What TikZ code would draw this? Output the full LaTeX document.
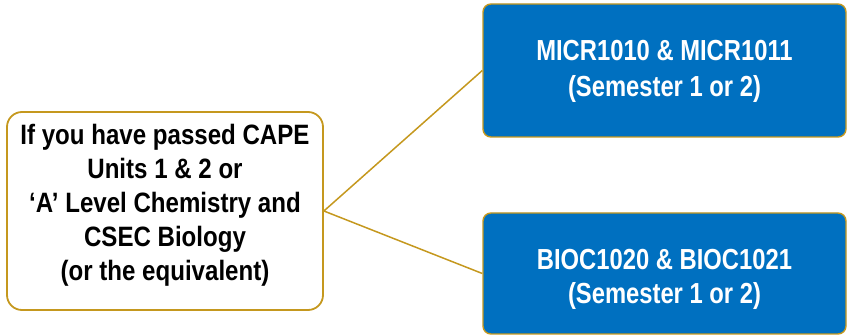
\documentclass[tikz,border=0pt]{standalone}
\usepackage{fontspec}
\setmainfont{Liberation Sans}[FakeStretch=0.86]
\newfontfamily\coursefont{Liberation Sans}[FakeStretch=0.82]
\definecolor{goldline}{RGB}{197,152,30}
\definecolor{coursebl}{RGB}{0,112,192}
\begin{document}
\begin{tikzpicture}[x=1pt,y=1pt,
  condbox/.style={draw=goldline, line width=1.8pt, rounded corners=15pt, fill=white,
    minimum width=316pt, minimum height=198pt, inner sep=0pt},
  coursebox/.style={draw=goldline, line width=1.4pt, rounded corners=8pt, fill=coursebl,
    minimum width=363pt, inner sep=0pt},
  boxtext/.style={font=\bfseries\fontsize{28}{34}\selectfont, align=center, inner sep=0pt},
  coursetext/.style={text=white, align=center, inner sep=0pt},
  link/.style={draw=goldline, line width=1.5pt}]
\useasboundingbox (0,0) rectangle (847,335);

% entry requirement box
\node[condbox] (cond) at (165,124) {};
\node[boxtext, text=black] (condtxt) at (165,129.5)
  {If you have passed CAPE\\Units 1 \& 2 or\\‘A’ Level Chemistry and\\CSEC Biology\\(or the equivalent)};

% course boxes
\node[coursebox, minimum height=133pt] (micr) at (664.5,264.5) {};
\node[coursetext, font=\coursefont\bfseries\fontsize{29}{36}\selectfont] (micrtxt) at (664.5,264)
  {MICR1010 \& MICR1011\\(Semester 1 or 2)};

\node[coursebox, minimum height=121pt] (bioc) at (664.5,61.5) {};
\node[coursetext, font=\coursefont\bfseries\fontsize{29}{34}\selectfont] (bioctxt) at (664.5,56)
  {BIOC1020 \& BIOC1021\\(Semester 1 or 2)};

% connectors
\path[link] (cond.east) -- (micr.west);
\path[link] (cond.east) -- (bioc.west);
\end{tikzpicture}
\end{document}
